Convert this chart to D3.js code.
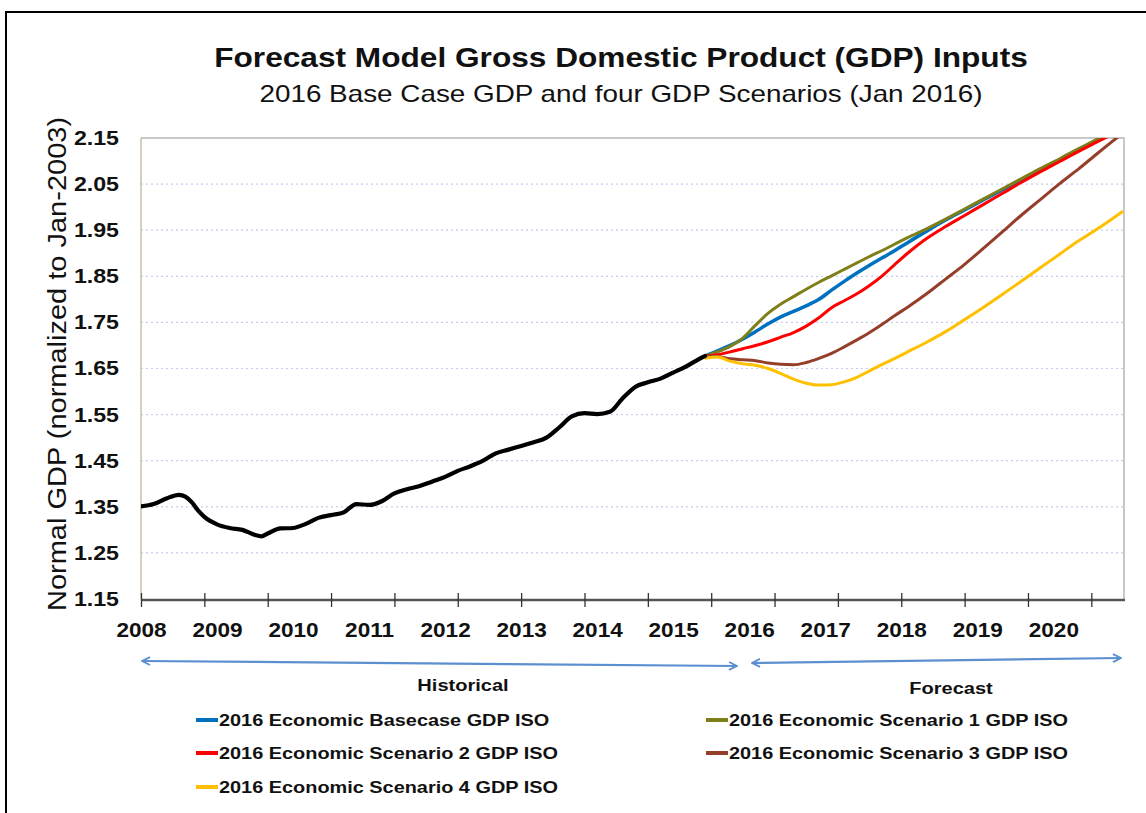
<!DOCTYPE html>
<html>
<head>
<meta charset="utf-8">
<script src="https://cdn.jsdelivr.net/npm/d3@7"></script>
<style>
  body { margin: 0; background: #fff; }
  svg { font-family: "Liberation Sans", Arial, sans-serif; }
</style>
</head>
<body>
<div class="chart"></div>
<script>
// month index 0 = Jan 2008
var histMonths = [0, 2, 4, 6, 7, 8, 9, 10, 12, 14, 16, 18, 19, 20, 22, 24, 26, 28, 30, 32, 34, 36, 38, 40, 42, 44,
        46, 48, 50, 52, 54, 56, 58, 60, 62, 64, 66, 68, 70, 72, 74, 76, 78, 80, 82, 84, 86, 88, 89]
var histGDP = [1.351, 1.356, 1.368, 1.376, 1.372, 1.360, 1.342, 1.328, 1.312, 1.304, 1.300, 1.289, 1.286, 1.292,
        1.303, 1.304, 1.313, 1.326, 1.332, 1.338, 1.356, 1.354, 1.362, 1.379, 1.388, 1.395, 1.405, 1.415, 1.428,
        1.438, 1.450, 1.466, 1.474, 1.482, 1.490, 1.500, 1.522, 1.546, 1.553, 1.551, 1.556, 1.585, 1.610, 1.620,
        1.628, 1.641, 1.654, 1.670, 1.677]

var fcMonths = [89, 91, 93, 95, 97, 99, 101, 103, 105, 107, 109, 111, 113, 115, 117, 119, 121, 124, 127, 130,
        133, 136, 139, 142, 145, 148, 151, 155]
var baseGDP = [1.677, 1.688, 1.700, 1.714, 1.730, 1.747, 1.762, 1.774, 1.786, 1.800, 1.820, 1.839, 1.857, 1.874,
        1.890, 1.906, 1.923, 1.948, 1.972, 1.994, 2.016, 2.038, 2.060, 2.081, 2.102, 2.125, 2.146, 2.175]
var scen1GDP = [1.677, 1.686, 1.698, 1.716, 1.744, 1.770, 1.790, 1.806, 1.822, 1.837, 1.851, 1.865, 1.879, 1.893,
        1.906, 1.920, 1.934, 1.953, 1.974, 1.996, 2.018, 2.040, 2.062, 2.084, 2.105, 2.127, 2.148, 2.178]
var scen2GDP = [1.677, 1.680, 1.686, 1.693, 1.700, 1.708, 1.718, 1.728, 1.742, 1.760, 1.782, 1.797, 1.812, 1.830,
        1.851, 1.876, 1.900, 1.932, 1.958, 1.982, 2.006, 2.030, 2.054, 2.077, 2.099, 2.121, 2.142, 2.170]
var scen3GDP = [1.677, 1.676, 1.671, 1.669, 1.667, 1.662, 1.659, 1.658, 1.663, 1.672, 1.683, 1.697, 1.712, 1.728,
        1.746, 1.765, 1.783, 1.812, 1.844, 1.876, 1.911, 1.947, 1.983, 2.017, 2.051, 2.083, 2.117, 2.161]
var scen4GDP = [1.672, 1.675, 1.666, 1.660, 1.657, 1.650, 1.639, 1.627, 1.618, 1.614, 1.615, 1.621, 1.631, 1.645,
        1.659, 1.672, 1.686, 1.707, 1.730, 1.756, 1.783, 1.811, 1.840, 1.869, 1.898, 1.927, 1.953, 1.991]

var seriesNames = ['2016 Economic Basecase GDP ISO', '2016 Economic Scenario 1 GDP ISO',
        '2016 Economic Scenario 2 GDP ISO', '2016 Economic Scenario 3 GDP ISO', '2016 Economic Scenario 4 GDP ISO']
var seriesColors = ['#0070C0', '#7F7F1A', '#FF0000', '#953E2A', '#FFC000']

var yearLabels = ['2008', '2009', '2010', '2011', '2012', '2013', '2014', '2015', '2016', '2017', '2018', '2019', '2020']
var yTicks = [1.15, 1.25, 1.35, 1.45, 1.55, 1.65, 1.75, 1.85, 1.95, 2.05, 2.15]


var W = 1146, H = 813
var plot = {left: 141, right: 1123, top: 138, bottom: 599}
var SX = 1.16   // the original picture is a bit wider than Arial

var svg = d3.select('.chart').append('svg')
    .attr('width', W)
    .attr('height', H)

// helper: widen text horizontally around its own anchor
function stretch(sel, sx) {
    sel.each(function(){
        var t = d3.select(this)
        var x = +(t.attr('x') || 0)
        var tr = t.attr('transform') || ''
        t.attr('x', x / sx).attr('transform', tr + ' scale(' + sx + ',1)')
    })
}

function addText(x, y, size, weight, str, sx) {
    return svg.append('text')
        .attr('transform', 'translate(' + x + ',' + y + ') scale(' + sx + ',1)')
        .attr('text-anchor', 'middle')
        .style('font-size', size + 'px').style('font-weight', weight)
        .attr('fill', '#111')
        .text(str)
}

// outer frame (cut off at right / bottom like the screenshot)
svg.append('rect')
    .attr('x', 6).attr('y', 12)
    .attr('width', 1200).attr('height', 900)
    .attr('fill', 'none')
    .attr('stroke', '#000')
    .attr('stroke-width', 2)

// titles
addText(621, 67, 28, 'bold', 'Forecast Model Gross Domestic Product (GDP) Inputs', 1.13)
addText(621, 102, 24, 'normal', '2016 Base Case GDP and four GDP Scenarios (Jan 2016)', SX)

// scales
var xScale = d3.scaleLinear()
    .domain([0, 155])
    .range([plot.left, plot.right])

var yScale = d3.scaleLinear()
    .domain([1.15, 2.15])
    .range([plot.bottom, plot.top])

// gridlines
svg.append('g')
    .selectAll('line')
    .data(yTicks.slice(1, -1))
    .enter().append('line')
        .attr('x1', plot.left).attr('x2', plot.right)
        .attr('y1', function(d){return yScale(d)})
        .attr('y2', function(d){return yScale(d)})
        .attr('stroke', '#c3cdee')
        .attr('stroke-width', 1.2)
        .attr('stroke-dasharray', '2,3')

// plot frame: top + right light gray, left tan
svg.append('path')
    .attr('d', 'M' + plot.left + ',' + plot.top + 'H' + (plot.right + 1) + 'V' + plot.bottom)
    .attr('fill', 'none')
    .attr('stroke', '#c8c8c8')
    .attr('stroke-width', 2)

svg.append('line')
    .attr('x1', plot.left).attr('x2', plot.left)
    .attr('y1', plot.top).attr('y2', plot.bottom)
    .attr('stroke', '#c9bfa6')
    .attr('stroke-width', 1.5)

// y axis labels
var yAxis = d3.axisLeft(yScale)
    .tickValues(yTicks)
    .tickSize(0)
    .tickPadding(22)
    .tickFormat(d3.format('.2f'))

var yAx = svg.append('g')
    .attr('transform', 'translate(' + plot.left + ',0)')
    .call(yAxis)
yAx.select('.domain').remove()
yAx.selectAll('text')
    .style('font-size', '20px').style('font-weight', 'bold')
    .style('font-family', '"Liberation Sans", Arial, sans-serif')
    .attr('fill', '#111')
    .call(stretch, SX)

svg.append('text')
    .attr('transform', 'translate(66,364) rotate(-90) scale(' + SX + ',1)')
    .attr('text-anchor', 'middle')
    .style('font-size', '25px')
    .attr('fill', '#111')
    .text('Normal GDP (normalized to Jan-2003)')

// lines
svg.append('clipPath').attr('id', 'plotclip')
    .append('rect')
    .attr('x', plot.left).attr('y', plot.top)
    .attr('width', plot.right - plot.left + 2).attr('height', plot.bottom - plot.top)

var line = d3.line()
    .x(function(d){return xScale(d[0])})
    .y(function(d){return yScale(d[1])})
    .curve(d3.curveMonotoneX)

var fcSeries = [baseGDP, scen1GDP, scen2GDP, scen3GDP, scen4GDP]
var lines_g = svg.append('g').attr('clip-path', 'url(#plotclip)')

for (var s = 0; s < fcSeries.length; s++) {
    var pts = fcMonths.map(function(m, i){return [m, fcSeries[s][i]]})
    lines_g.append('path')
        .attr('d', line(pts))
        .attr('fill', 'none')
        .attr('stroke', seriesColors[s])
        .attr('stroke-width', s == 0 ? 3.5 : 3)
        .attr('stroke-linejoin', 'round')
}

lines_g.append('path')
    .attr('d', line(histMonths.map(function(m, i){return [m, histGDP[i]]})))
    .attr('fill', 'none')
    .attr('stroke', '#000')
    .attr('stroke-width', 4.2)
    .attr('stroke-linejoin', 'round')
    .attr('stroke-linecap', 'round')

// x axis: ticks every 10 months, labels every 12 months (Excel style)
var tickMonths = d3.range(0, 151, 10)
var xAxis = d3.axisBottom(xScale)
    .tickValues(tickMonths)
    .tickSize(7)
    .tickFormat('')
    .tickSizeOuter(0)

var xAx = svg.append('g')
    .attr('transform', 'translate(0,' + (plot.bottom + 1) + ')')
    .call(xAxis)
xAx.select('.domain')
    .attr('stroke', '#555')
    .attr('stroke-width', 2.5)
    .attr('d', 'M' + plot.left + ',0H' + (plot.right + 2))
xAx.selectAll('.tick line')
    .attr('y1', -7)
    .attr('stroke', '#333')
    .attr('stroke-width', 1.3)

var labelAxis = d3.axisBottom(xScale)
    .tickValues(yearLabels.map(function(d, i){return i * 12}))
    .tickSize(0)
    .tickPadding(0)
    .tickFormat(function(d, i){return yearLabels[i]})

var lAx = svg.append('g')
    .attr('transform', 'translate(0,' + 623 + ')')
    .call(labelAxis)
lAx.select('.domain').remove()
lAx.selectAll('text')
    .style('font-size', '20px').style('font-weight', 'bold')
    .style('font-family', '"Liberation Sans", Arial, sans-serif')
    .attr('fill', '#111')
    .call(stretch, 1.13)

// historical / forecast arrows
var defs = svg.append('defs')
defs.append('marker')
    .attr('id', 'arrowhead')
    .attr('viewBox', '0 0 10 10')
    .attr('refX', 9).attr('refY', 5)
    .attr('markerWidth', 10).attr('markerHeight', 10)
    .attr('markerUnits', 'userSpaceOnUse')
    .attr('orient', 'auto-start-reverse')
    .append('path')
        .attr('d', 'M1,1 L9,5 L1,9')
        .attr('fill', 'none')
        .attr('stroke', '#5b8fd0')
        .attr('stroke-width', 1.8)

var arrows = [
    {x1: 142, y1: 661, x2: 737, y2: 666},
    {x1: 752, y1: 663, x2: 1121, y2: 658}
]
svg.selectAll('.arrow').data(arrows)
    .enter().append('line')
        .attr('class', 'arrow')
        .attr('x1', function(d){return d.x1}).attr('y1', function(d){return d.y1})
        .attr('x2', function(d){return d.x2}).attr('y2', function(d){return d.y2})
        .attr('stroke', '#5b8fd0')
        .attr('stroke-width', 2.2)
        .attr('marker-start', 'url(#arrowhead)')
        .attr('marker-end', 'url(#arrowhead)')

addText(463, 691, 17, 'bold', 'Historical', 1.18)
addText(951, 694, 17, 'bold', 'Forecast', 1.18)

// legend
var legendPos = [[196, 720], [706, 720], [196, 753], [706, 753], [196, 787]]
var legend = svg.selectAll('.legend').data(seriesNames)
    .enter().append('g')
        .attr('class', 'legend')
        .attr('transform', function(d, i){return 'translate(' + legendPos[i][0] + ',' + legendPos[i][1] + ')'})

legend.append('line')
    .attr('x1', 0).attr('x2', 22)
    .attr('stroke', function(d, i){return seriesColors[i]})
    .attr('stroke-width', 4)

legend.append('text')
    .attr('x', 23).attr('dy', '0.36em')
    .style('font-size', '17px').style('font-weight', 'bold')
    .attr('fill', '#111')
    .text(function(d){return d})
    .call(stretch, 1.17)
</script>
</body>
</html>
